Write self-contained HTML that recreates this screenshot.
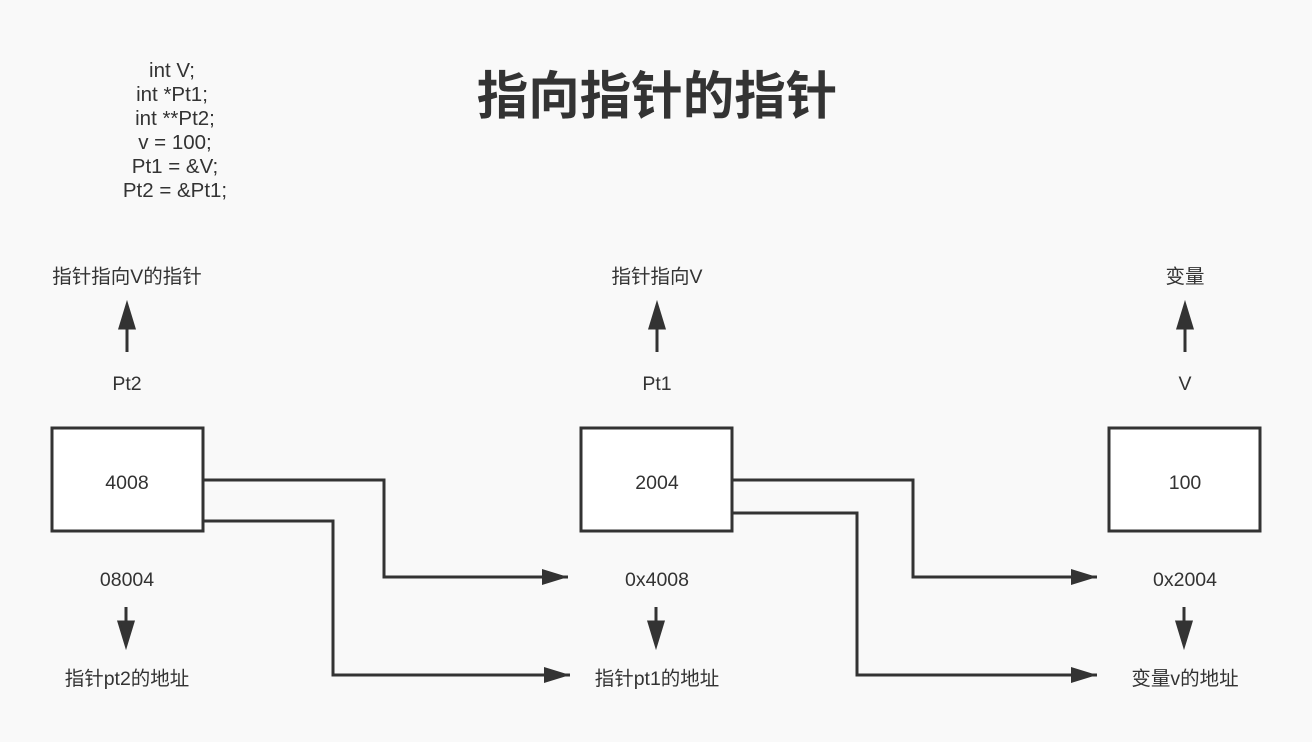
<!DOCTYPE html>
<html><head><meta charset="utf-8"><style>
body{margin:0;width:1312px;height:742px;background:#f9f9f9;overflow:hidden;font-family:"Liberation Sans","Noto Sans CJK SC",sans-serif;color:#333}
</style></head><body>
<svg width="1312" height="742" xmlns="http://www.w3.org/2000/svg" style="position:absolute;left:0;top:0">
<defs>
<marker id="b" viewBox="0 0 26 16" refX="26" refY="8" markerWidth="26" markerHeight="16" orient="auto" markerUnits="userSpaceOnUse"><path d="M0,0 L26,8 L0,16 z" fill="#333"/></marker></defs>
<g fill="#fff" stroke="#333" stroke-width="3">
<rect x="52" y="428" width="151" height="103"/>
<rect x="581" y="428" width="151" height="103"/>
<rect x="1109" y="428" width="151" height="103"/>
</g>
<g fill="none" stroke="#333" stroke-width="3">
<polyline points="203,480 384,480 384,577 568,577" marker-end="url(#b)"/>
<polyline points="203,521 333,521 333,675 570,675" marker-end="url(#b)"/>
<polyline points="732,480 913,480 913,577 1097,577" marker-end="url(#b)"/>
<polyline points="732,513 857,513 857,675 1097,675" marker-end="url(#b)"/>
</g>
<g stroke="#333" stroke-width="3" fill="#333">
<line x1="127" y1="352" x2="127" y2="325"/><path d="M120,328 L127,305 L134,328z"/>
<line x1="657" y1="352" x2="657" y2="325"/><path d="M650,328 L657,305 L664,328z"/>
<line x1="1185" y1="352" x2="1185" y2="325"/><path d="M1178,328 L1185,305 L1192,328z"/>
<line x1="126" y1="607" x2="126" y2="625"/><path d="M119,622 L126,645 L133,622z"/>
<line x1="656" y1="607" x2="656" y2="625"/><path d="M649,622 L656,645 L663,622z"/>
<line x1="1184" y1="607" x2="1184" y2="625"/><path d="M1177,622 L1184,645 L1191,622z"/>
</g>
<g font-family="Liberation Sans, Noto Sans CJK SC, sans-serif" font-size="19.5" fill="#333" text-anchor="middle" stroke="none">
<g font-size="20.5">
<text x="172" y="77">int V;</text>
<text x="172" y="101">int *Pt1;</text>
<text x="175" y="125">int **Pt2;</text>
<text x="175" y="149">v = 100;</text>
<text x="175" y="173">Pt1 = &amp;V;</text>
<text x="175" y="197">Pt2 = &amp;Pt1;</text>
</g>
<text x="657" y="114" font-size="51.5" font-weight="bold">指向指针的指针</text>
<text x="127" y="283">指针指向V的指针</text>
<text x="657" y="283">指针指向V</text>
<text x="1185" y="283">变量</text>
<text x="127" y="390">Pt2</text>
<text x="657" y="390">Pt1</text>
<text x="1185" y="390">V</text>
<text x="127" y="489">4008</text>
<text x="657" y="489">2004</text>
<text x="1185" y="489">100</text>
<text x="127" y="586">08004</text>
<text x="657" y="586">0x4008</text>
<text x="1185" y="586">0x2004</text>
<text x="127" y="685">指针pt2的地址</text>
<text x="657" y="685">指针pt1的地址</text>
<text x="1185" y="685">变量v的地址</text>
</g>
</svg>
</body></html>
